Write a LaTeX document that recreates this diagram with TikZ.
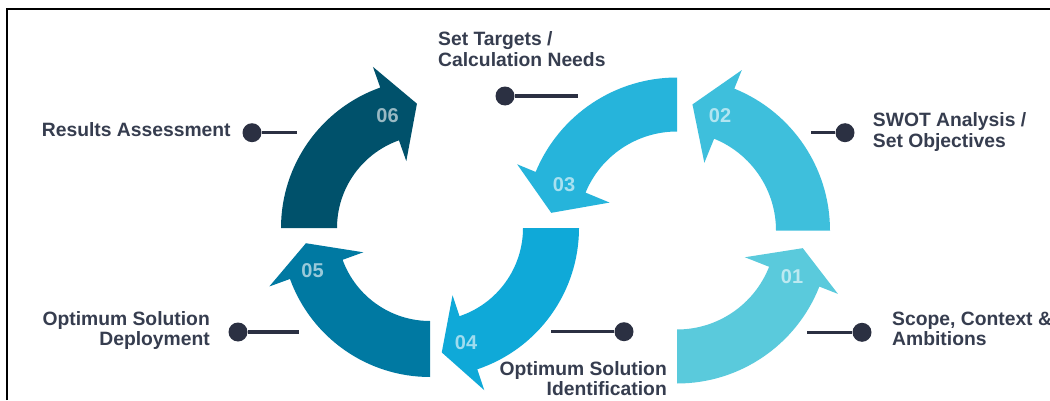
\documentclass[tikz,border=0pt]{standalone}
\usepackage{fontspec}
\setmainfont{Liberation Sans}
\usetikzlibrary{calc}
\definecolor{cOne}{HTML}{5ACADC}
\definecolor{cTwo}{HTML}{3EBFDC}
\definecolor{cThree}{HTML}{26B4DB}
\definecolor{cFour}{HTML}{0FA9D8}
\definecolor{cFive}{HTML}{0079A2}
\definecolor{cSix}{HTML}{00516B}
\definecolor{txtc}{HTML}{363D4F}
\definecolor{linec}{HTML}{2B3042}
\newcommand{\cycarrow}[5]{%
  \fill[#5] ($(#1)+(#2:\arcRo)$) arc[start angle=#2, end angle=#3, radius=\arcRo]
    -- ($(#1)+(#3:\arcRb)$) -- ($(#1)+(#4:\arcRt)$) -- ($(#1)+(#3:\arcrb)$)
    -- ($(#1)+(#3:\arcri)$) arc[start angle=#3, end angle=#2, radius=\arcri] -- cycle;}
\begin{document}
\begin{tikzpicture}[x=1pt,y=1pt,
  lbl/.style={font=\fontsize{19.3}{20}\selectfont\bfseries, text=txtc, inner sep=0pt},
  num/.style={font=\fontsize{20}{20}\selectfont\bfseries, text=white, text opacity=0.6, inner sep=0pt},
  dotn/.style={circle, fill=linec, minimum size=19pt, inner sep=0pt},
  conn/.style={draw=linec, line width=3.5pt}]
\useasboundingbox (0,0) rectangle (1050,400);
\fill[white] (0,0) rectangle (1050,400);
\draw[line width=2pt] (7,0) -- (7,391) -- (1052,391);

\coordinate (CL) at (430,172);
\coordinate (CR) at (677,169.5);

% left circle
\def\arcRo{149pt}\def\arcri{93pt}\def\arcRb{171pt}\def\arcrb{71pt}\def\arcRt{125pt}
\cycarrow{CL}{180}{109.5}{96}{cSix}
\cycarrow{CL}{270}{200}{187}{cFive}
\cycarrow{CL}{0}{-71.5}{-84.6}{cFour}
% right circle
\def\arcRo{153pt}\def\arcri{99pt}\def\arcRb{173pt}\def\arcrb{73pt}\def\arcRt{127pt}
\cycarrow{CR}{90}{157.5}{172}{cThree}
\cycarrow{CR}{0}{68}{83}{cTwo}
\cycarrow{CR}{-90}{-21.5}{-8}{cOne}

% numbers
\node[num] (n06) at (387.5,284.2) {06};
\node[num] (n05) at (312.5,129.5) {05};
\node[num] (n04) at (466,57.5) {04};
\node[num] (n03) at (564,215.3) {03};
\node[num] (n02) at (720,284.2) {02};
\node[num] (n01) at (792,123.7) {01};

% labels
\node[lbl, anchor=base west] (l3a) at (438,354.5) {Set Targets /};
\node[lbl, anchor=base west] (l3b) at (438,334) {Calculation Needs};
\node[lbl, anchor=base west] (l6) at (41.7,263.3) {Results Assessment};
\node[lbl, anchor=base west] (l2a) at (872.7,273.3) {SWOT Analysis /};
\node[lbl, anchor=base west] (l2b) at (872.7,253) {Set Objectives};
\node[lbl, anchor=base east] (l5a) at (210,74.5) {Optimum Solution};
\node[lbl, anchor=base east] (l5b) at (210,54.5) {Deployment};
\node[lbl, anchor=base east] (l4a) at (667,25) {Optimum Solution};
\node[lbl, anchor=base east] (l4b) at (667,5) {Identification};
\node[lbl, anchor=base west] (l1a) at (892,75) {Scope, Context \&};
\node[lbl, anchor=base west] (l1b) at (892,55) {Ambitions};

% connectors
\node[dotn] (d6) at (252,267.3) {};
\coordinate (e6) at (297,267.3);
\draw[conn] (d6) -- (e6);
\node[dotn] (d3) at (505,304) {};
\coordinate (e3) at (578,304);
\draw[conn] (d3) -- (e3);
\node[dotn] (d2) at (845,267.3) {};
\coordinate (e2) at (811,267.3);
\draw[conn] (d2) -- (e2);
\node[dotn] (d5) at (238,68) {};
\coordinate (e5) at (299,68);
\draw[conn] (d5) -- (e5);
\node[dotn] (d4) at (624,68.3) {};
\coordinate (e4) at (551,68.3);
\draw[conn] (d4) -- (e4);
\node[dotn] (d1) at (862,67.7) {};
\coordinate (e1) at (807,67.7);
\draw[conn] (d1) -- (e1);
\end{tikzpicture}
\end{document}
